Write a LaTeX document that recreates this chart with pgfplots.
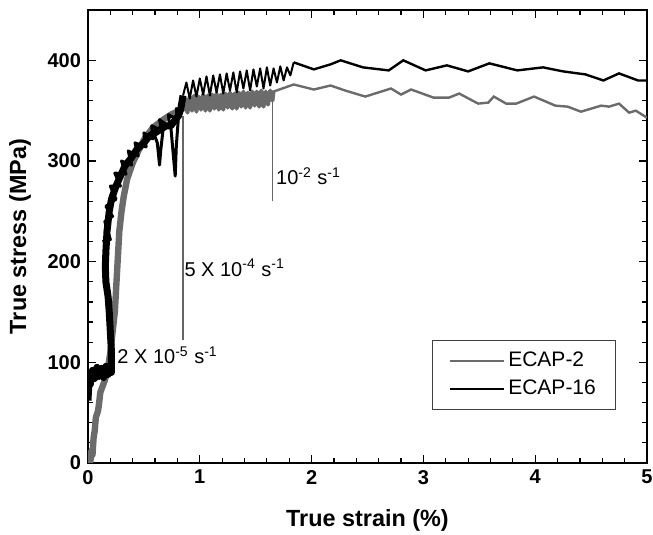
\documentclass[border=0pt]{standalone}
\usepackage{fontspec}
\setmainfont{Liberation Sans}
\usepackage{pgfplots}
\pgfplotsset{compat=1.18}

\definecolor{ecapgray}{gray}{0.42}

\begin{document}
\begin{tikzpicture}
\useasboundingbox (-44pt,-36pt) rectangle (282.5pt,231.5pt);
\begin{axis}[
  at={(0,0)}, anchor=south west,
  width=279.5pt, height=226.5pt, scale only axis,
  xmin=0, xmax=5, ymin=0, ymax=450,
  xtick={0,1,2,3,4,5}, ytick={0,100,200,300,400},
  minor x tick num=4, minor y tick num=4,
  tick align=inside, major tick length=4pt, minor tick length=2.5pt,
  every tick/.style={black, line width=0.6pt},
  axis line style={line width=0.9pt},
  tick label style={font=\fontsize{10}{12}\selectfont\bfseries},
  /pgf/number format/assume math mode=true,
  xlabel={True strain (\%)}, ylabel={True stress (MPa)},
  label style={font=\fontsize{11.7}{13}\selectfont\bfseries},
  xlabel style={at={(rel axis cs:0.5,0)}, anchor=center, yshift=-28.5pt},
  ylabel style={at={(rel axis cs:0,0.5)}, anchor=center, yshift=34pt},
  legend style={at={(0.945,0.117)}, anchor=south east, draw=black!75,
    font=\fontsize{10.5}{12.5}\selectfont, inner xsep=8pt, inner ysep=4pt,
    row sep=1pt},
  legend cell align=left,
  legend image code/.code={\draw[#1] (0pt,0pt) -- (27pt,0pt);},
]
% ECAP-2, dense part
\addplot[ecapgray, line width=3.2pt, line join=round, forget plot] coordinates {
(0.02,0)(0.03,12)(0.04,8)(0.05,25)(0.06,32)(0.07,45)(0.09,52)(0.10,60)
(0.11,70)(0.13,76)(0.15,82)(0.18,95)(0.20,110)(0.22,130)(0.24,150)
(0.25,170)(0.26,190)(0.27,210)(0.28,230)(0.30,250)(0.32,265)(0.35,282)
(0.40,298)(0.45,310)(0.51,323)(0.58,333)(0.66,340)(0.74,346)(0.80,349)(0.85,352)};
\addplot[ecapgray, line width=2pt, line join=round, forget plot] coordinates {
(0.85,350)(0.87,362)(0.89,348)(0.91,364)(0.93,350)(0.95,365)(0.97,349)
(0.99,364)(1.01,351)(1.03,366)(1.05,350)(1.07,365)(1.09,350)(1.11,366)
(1.13,352)(1.15,367)(1.17,351)(1.19,366)(1.21,351)(1.23,367)(1.25,353)
(1.27,368)(1.29,352)(1.31,367)(1.33,352)(1.35,368)(1.37,354)(1.39,369)
(1.41,353)(1.43,368)(1.45,353)(1.47,369)(1.49,355)(1.51,369)(1.53,354)
(1.55,370)(1.57,354)(1.59,369)(1.61,356)(1.63,370)(1.65,360)(1.66,370)};
\addplot[ecapgray, line width=1.2pt, forget plot] coordinates {
(1.66,369)(1.84,376)(2.02,371)(2.17,375)(2.30,370)(2.48,364)(2.71,372)
(2.80,366)(2.89,371)(3.09,363)(3.23,363)(3.32,367)(3.49,357)(3.58,358)
(3.63,364)(3.74,357)(3.83,357)(3.99,364)(4.18,355)(4.29,354)(4.41,349)
(4.59,355)(4.66,354)(4.75,357)(4.84,348)(4.90,350)(5.00,343)};
% ECAP-16, dense part
\addplot[black, line width=3.5pt, line join=round, forget plot] coordinates {
(0.00,62)(0.01,85)(0.02,78)(0.04,92)(0.06,84)(0.08,95)(0.10,86)(0.12,94)
(0.14,85)(0.16,96)(0.18,88)(0.20,95)(0.21,90)(0.21,110)(0.20,130)
(0.19,150)(0.18,165)(0.16,180)(0.155,195)(0.16,210)(0.17,230)(0.19,250)
(0.21,262)(0.25,275)(0.29,285)(0.33,295)(0.38,302)(0.44,312)(0.50,318)
(0.55,325)(0.60,328)(0.70,335)(0.74,335)(0.81,345)(0.83,352)(0.85,365)};
\addplot[black, line width=1.5pt, line join=round, forget plot] coordinates {
(0.13,220)(0.20,222)(0.15,240)(0.22,245)(0.16,255)(0.25,262)(0.20,275)
(0.29,275)(0.24,288)(0.34,287)(0.30,300)(0.39,296)(0.36,310)(0.45,305)
(0.42,318)(0.52,314)(0.50,328)(0.58,322)(0.57,335)(0.66,330)(0.64,341)
(0.73,334)(0.72,346)(0.80,341)(0.79,352)(0.85,350)};
\addplot[black, line width=1.5pt, line join=round, forget plot] coordinates {
(0.58,330)(0.62,318)(0.64,296)(0.65,310)(0.67,330)};
\addplot[black, line width=1.5pt, line join=round, forget plot] coordinates {
(0.74,335)(0.76,310)(0.78,285)(0.79,315)(0.81,345)};
\addplot[black, line width=1pt, line join=round, forget plot] coordinates {
(0.85,365)(0.88,378)(0.91,362)(0.94,380)(0.97,364)(1.00,382)(1.03,366)
(1.06,384)(1.09,365)(1.12,385)(1.15,368)(1.18,386)(1.21,367)(1.24,387)
(1.27,370)(1.30,388)(1.33,368)(1.36,389)(1.39,372)(1.42,390)(1.45,370)
(1.48,391)(1.51,374)(1.54,392)(1.57,372)(1.60,393)(1.63,375)(1.66,392)
(1.69,378)(1.72,394)(1.75,380)(1.78,393)(1.81,385)(1.84,398)};
\addplot[black, line width=1.2pt, forget plot] coordinates {
(1.84,398)(2.02,391)(2.17,396)(2.26,400)(2.46,393)(2.69,390)(2.82,400)
(3.02,390)(3.21,395)(3.40,389)(3.59,397)(3.84,390)(4.07,393)(4.25,389)
(4.45,386)(4.61,380)(4.75,387)(4.92,380)(5.00,380)};
% strain-rate markers
\addplot[black!60, line width=0.6pt, forget plot] coordinates {(0.85,122)(0.85,345)};
\addplot[black!60, line width=0.6pt, forget plot] coordinates {(1.65,260)(1.65,362)};
\node[anchor=west, inner sep=0pt, font=\fontsize{10}{12}\selectfont] at (axis cs:0.26,107) {2 X 10\textsuperscript{-5} s\textsuperscript{-1}};
\node[anchor=west, inner sep=0pt, font=\fontsize{10}{12}\selectfont] at (axis cs:0.86,194) {5 X 10\textsuperscript{-4} s\textsuperscript{-1}};
\node[anchor=west, inner sep=0pt, font=\fontsize{10}{12}\selectfont] at (axis cs:1.68,285) {10\textsuperscript{-2} s\textsuperscript{-1}};
\addlegendimage{ecapgray, line width=0.8pt}
\addlegendentry{ECAP-2}
\addlegendimage{black, line width=0.8pt}
\addlegendentry{ECAP-16}
\end{axis}
\end{tikzpicture}
\end{document}
